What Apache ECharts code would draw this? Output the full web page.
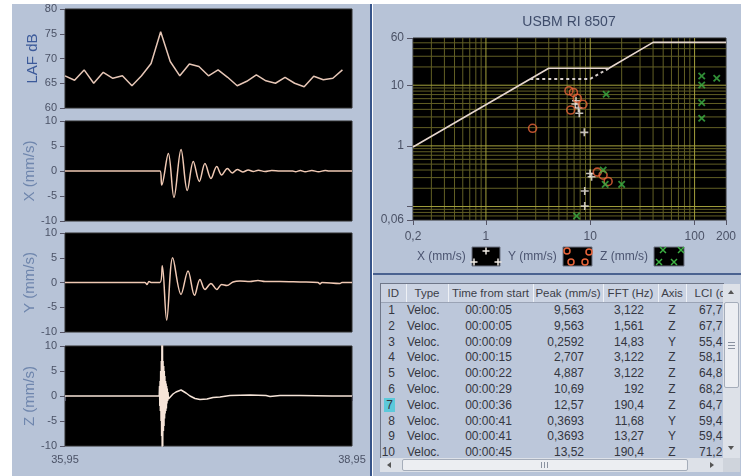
<!DOCTYPE html>
<html><head><meta charset="utf-8">
<script src="https://cdn.jsdelivr.net/npm/echarts@6/dist/echarts.min.js"></script>
<style>
html,body{margin:0;padding:0;background:#fff;width:750px;height:476px;overflow:hidden;font-family:"Liberation Sans",Arial,sans-serif;}
.abs{position:absolute;}
.bg{position:absolute;background:#b7c3d7;}
#chart{position:absolute;left:0;top:0;width:750px;height:476px;}
#tblwrap{position:absolute;left:380px;top:283px;width:343px;height:175px;overflow:hidden;border-top:1px solid #6f7789;border-left:1px solid #6f7789;background:#bcc7da;}
#tbl{border-collapse:collapse;table-layout:fixed;font-size:12px;color:#34363f;width:365px;}
#tbl th{height:18px;padding:0;font-weight:normal;font-size:11.5px;background:#cbd3e2;border-right:1px solid #eef1f6;border-bottom:1px solid #9aa3b5;white-space:nowrap;overflow:hidden;text-align:center;color:#3c3e48;}
#tbl td{height:15.8px;line-height:15.8px;padding:0;white-space:nowrap;overflow:hidden;}
.c0{text-align:right;padding-right:11px !important;}
.c1{text-align:left;padding-left:1px !important;}
.c2{text-align:center;padding-right:4px !important;}
.c3{text-align:right;padding-right:19px !important;}
.c4{text-align:right;padding-right:14px !important;}
.c5{text-align:center;}
.c6{text-align:left;padding-left:13px !important;}
.hl{background:#5cc9da;padding:0 2px;}
.sbtrack{position:absolute;background:#dde1e8;}
.thumb{position:absolute;background:#eceef2;border:1px solid #a5adba;border-radius:2px;box-sizing:border-box;}
.tri{position:absolute;width:0;height:0;}
</style></head>
<body>
<div class="bg" style="left:12px;top:4px;width:358px;height:472px"></div>
<div class="abs" style="left:370px;top:4px;width:2px;height:472px;background:#36548a"></div>
<div class="bg" style="left:373px;top:4px;width:368px;height:269px"></div>
<div class="abs" style="left:373px;top:273px;width:368px;height:2px;background:#4a6290"></div>
<div class="bg" style="left:373px;top:275px;width:368px;height:201px"></div>
<div id="chart"></div>
<div id="tblwrap"><table id="tbl"></table></div>
<div class="sbtrack" style="left:723px;top:284px;width:17px;height:174px"></div>
<div class="tri" style="left:728px;top:290px;border-left:3.5px solid transparent;border-right:3.5px solid transparent;border-bottom:4px solid #555"></div>
<div class="thumb" style="left:724px;top:302px;width:15px;height:86px"></div>
<div class="abs" style="left:728px;top:342px;width:7px;height:1px;background:#8a92a0"></div>
<div class="abs" style="left:728px;top:345px;width:7px;height:1px;background:#8a92a0"></div>
<div class="abs" style="left:728px;top:348px;width:7px;height:1px;background:#8a92a0"></div>
<div class="tri" style="left:728px;top:446px;border-left:3.5px solid transparent;border-right:3.5px solid transparent;border-top:4px solid #555"></div>
<div class="sbtrack" style="left:380px;top:458px;width:343px;height:14px"></div>
<div class="tri" style="left:387px;top:461.5px;border-top:3.5px solid transparent;border-bottom:3.5px solid transparent;border-right:4px solid #555"></div>
<div class="thumb" style="left:402px;top:459px;width:286px;height:12px"></div>
<div class="abs" style="left:541px;top:462px;width:1px;height:6px;background:#8a92a0"></div>
<div class="abs" style="left:544px;top:462px;width:1px;height:6px;background:#8a92a0"></div>
<div class="abs" style="left:547px;top:462px;width:1px;height:6px;background:#8a92a0"></div>
<div class="tri" style="left:710px;top:461.5px;border-top:3.5px solid transparent;border-bottom:3.5px solid transparent;border-left:4px solid #555"></div>
<div class="abs" style="left:723px;top:458px;width:17px;height:14px;background:#cfd4dc"></div>
<script>
// ---------- Time-series data ----------
const lafT = [35.95,36.05,36.15,36.25,36.35,36.45,36.55,36.65,36.75,36.85,36.95,37.05,37.15,37.25,37.35,37.45,37.55,37.65,37.75,37.85,37.95,38.05,38.15,38.25,38.35,38.45,38.55,38.65,38.75,38.85];
const lafV = [66.5,65.6,67.7,65.0,67.2,66.0,66.5,64.5,66.5,69.0,75.4,69.4,66.5,68.9,68.4,66.5,67.7,66.2,64.5,65.4,66.7,65.5,65.0,66.2,65.0,64.3,66.4,65.7,66.0,67.7];

const xT = [35.95,36.943,36.961,37.030,37.089,37.163,37.228,37.291,37.354,37.413,37.476,37.536,37.588,37.647,37.699,37.751,37.808,37.866,37.918,37.971,38.041,38.111,38.197,38.33,38.36,38.41,38.46,38.53,38.60,38.67,38.71,38.95];
const xV = [0,0,-2.8,3.5,-5.3,4.3,-3.9,1.9,-2.1,1.5,-1.5,0.9,-0.8,0.5,-0.4,0.3,-0.2,0.2,-0.1,0.15,-0.1,0.1,0,0,-0.15,0.1,-0.15,0.1,-0.15,0.1,0,0];

const yT = [35.95,36.786,36.807,36.828,36.849,36.943,36.967,37.013,37.076,37.163,37.236,37.304,37.361,37.413,37.476,37.536,37.588,37.643,37.706,37.779,37.884,37.967,38.041,38.197,38.406,38.595,38.615,38.636,38.824,38.845,38.95];
const yV = [0,0,-0.4,0.2,0,0,3.4,-7.6,5.0,-2.4,2.3,-2.6,0.6,-1.4,-0.2,-1.4,-0.4,-0.6,0.1,0.3,0.2,0.4,0.2,0.2,0.1,0,-0.3,0,-0.2,0,0];

const zT = [35.95,36.935,36.938,36.941,36.944,36.947,36.950,36.954,36.957,36.960,36.963,36.966,36.969,36.972,36.975,36.979,36.982,36.985,36.988,36.991,36.994,36.997,37.001,37.004,37.007,37.010,37.013,37.016,37.019,37.023,37.027,37.031,37.035,37.079,37.110,37.163,37.215,37.257,37.309,37.361,37.434,37.497,37.570,37.675,37.884,38.051,38.062,38.072,38.093,38.197,38.406,38.741,38.751,38.762,38.95];
const zV = [0,0,2,-2,3,-3,5,-5,7,-8,12,-12,12,-10,7,-7,6,-6,5,-4.5,4,-3.5,3,-3,2.5,-2.5,2,-1.5,1.5,-1,0.8,-0.6,-0.2,0.4,0.8,1.2,0.6,0,-0.5,-0.7,-0.6,-0.3,-0.2,0.1,0.2,0.1,0.4,0,-0.1,0.1,0.1,0,-0.3,0,0];

// ---------- USBM RI 8507 scatter data (frequency Hz, velocity mm/s) ----------
const pointsX = [[7.3,5.55],[7.2,4.9],[7.7,4.2],[7.85,3.44],[8.77,1.67],[9.95,0.35],[10.3,0.31],[8.85,0.18],[8.85,0.102]];
const pointsY = [[6.25,8.1],[6.9,7.6],[7.5,6.1],[8.5,4.85],[6.5,3.9],[2.8,1.95],[11.68,0.3693],[13.27,0.33],[14.83,0.2592]];
const pointsZ = [[117,14.2],[163,13],[117,10.1],[14.2,7.1],[117,5.15],[117,2.85],[13.3,0.40],[13.9,0.232],[20,0.232],[7.4,0.07]];
const limitSolid = [[0.2,0.96],[4,19],[15.1,19],[40,50.8],[200,50.8]];
const limitDotted = [[2.66,12.7],[10,12.7],[15.1,19]];
const minorGridX = [0.3,0.4,0.5,0.6,0.7,0.8,0.9,2,3,4,5,6,7,8,9,20,30,40,50,60,70,80,90];
const majorGridX = [1,10,100];
const minorGridY = [0.07,0.08,0.09,0.2,0.3,0.4,0.5,0.6,0.7,0.8,0.9,2,3,4,5,6,7,8,9,20,30,40,50];
const majorGridY = [0.1,1,10];
const FMIN = 0.2, FMAX = 200, VMIN = 0.06, VMAX = 60;

// ---------- Table data ----------
const tHead = ['ID','Type','Time from start','Peak (mm/s)','FFT (Hz)','Axis','LCI (dB)'];
const tIds = [1,2,3,4,5,6,7,8,9,10];
const tType = ['Veloc.','Veloc.','Veloc.','Veloc.','Veloc.','Veloc.','Veloc.','Veloc.','Veloc.','Veloc.'];
const tTime = ['00:00:05','00:00:05','00:00:09','00:00:15','00:00:22','00:00:29','00:00:36','00:00:41','00:00:41','00:00:45'];
const tPeak = ['9,563','9,563','0,2592','2,707','4,887','10,69','12,57','0,3693','0,3693','13,52'];
const tFFT = ['3,122','1,561','14,83','3,122','3,122','192','190,4','11,68','13,27','190,4'];
const tAxis = ['Z','Z','Y','Z','Z','Z','Z','Y','Y','Z'];
const tLCI = ['67,7','67,7','55,4','58,1','64,8','68,2','64,7','59,4','59,4','71,2'];
const tWidths = [25,42,85,70,55,28,60];
const selectedRow = 7;

// build table
(function(){
  let h = '<colgroup>' + tWidths.map(w=>'<col style="width:'+w+'px">').join('') + '</colgroup>';
  h += '<tr>' + tHead.map(t=>'<th>'+t+'</th>').join('') + '</tr>';
  tIds.forEach((id,i)=>{
    const idTxt = id===selectedRow ? '<span class="hl">'+id+'</span>' : id;
    h += '<tr><td class="c0">'+idTxt+'</td><td class="c1">'+tType[i]+'</td><td class="c2">'+tTime[i]+'</td><td class="c3">'+tPeak[i]+'</td><td class="c4">'+tFFT[i]+'</td><td class="c5">'+tAxis[i]+'</td><td class="c6">'+tLCI[i]+'</td></tr>';
  });
  document.getElementById('tbl').innerHTML = h;
})();

const zip = (a,b)=>a.map((t,i)=>[t,b[i]]);
const TMIN = 35.95, TMAX = 38.95;
const labelColor = '#4b5266';
const traceColor = '#f0c9b4';
const ff = '"Liberation Sans", Arial, sans-serif';

function timeAxis(i, labels){
  return {
    type:'value', gridIndex:i, min:TMIN, max:TMAX,
    axisLine:{show:false}, splitLine:{show:false},
    axisTick:{show:labels, length:5, lineStyle:{color:'#556'}, customValues:[TMIN,TMAX]},
    axisLabel:{show:labels, color:labelColor, fontSize:11, fontFamily:ff, margin:8,
      customValues:[TMIN,TMAX], formatter:v=>v.toFixed(2).replace('.',',')}
  };
}
function valAxis(i, mn, mx, name, nameColor){
  return {
    type:'value', gridIndex:i, min:mn, max:mx, interval:5,
    name:name, nameLocation:'middle', nameGap:25,
    nameTextStyle:{color:nameColor, fontSize:15, fontFamily:ff},
    axisLine:{show:false}, splitLine:{show:false},
    axisTick:{show:true, length:5, lineStyle:{color:'#556'}},
    axisLabel:{color:labelColor, fontSize:11, fontFamily:ff, margin:8}
  };
}
const logFmt = v => { if (Math.abs(v-0.1) < 1e-9) return ''; return String(Number(v.toPrecision(6))).replace('.', ','); };

const gridBase = {show:true, backgroundColor:'#000', borderColor:'#2e2e2e', borderWidth:1, containLabel:false, outerBoundsMode:'none'};
const grids = [
  Object.assign({left:65, top:9, width:287, height:99}, gridBase),
  Object.assign({left:65, top:121, width:287, height:100}, gridBase),
  Object.assign({left:65, top:233, width:287, height:99}, gridBase),
  Object.assign({left:65, top:346, width:287, height:100}, gridBase),
  Object.assign({left:413, top:38, width:313, height:182}, gridBase)
];

function lineSeries(i, data, smooth, color){
  return {type:'line', xAxisIndex:i, yAxisIndex:i, data:data, showSymbol:false, smooth:smooth,
    lineStyle:{color:color, width:1.5}, silent:true, z:3};
}
// log grid lines drawn as a broken line series (segments separated by gaps)
function gridLines(xs, ys, color){
  const d = [];
  xs.forEach(v=>{ d.push([v,VMIN],[v,VMAX],['-','-']); });
  ys.forEach(v=>{ d.push([FMIN,v],[FMAX,v],['-','-']); });
  return {type:'line', xAxisIndex:4, yAxisIndex:4, data:d, showSymbol:false, silent:true, z:1,
    connectNulls:false, lineStyle:{color:color, width:1, opacity:1}, emphasis:{disabled:true}};
}

const plusPath = 'path://M4,0H6V4H10V6H6V10H4V6H0V4H4Z';

// legend graphics
const legendItems = [];
function txt(x,y,t){ legendItems.push({type:'text', x:x, y:y, style:{text:t, fill:'#4b5470', font:'12px '+ff, textVerticalAlign:'middle'}}); }
function box(x,y,w,h){ legendItems.push({type:'rect', shape:{x:x,y:y,width:w,height:h}, style:{fill:'#000', stroke:'#6a7080', lineWidth:1}}); }
function plus(cx,cy,c){ legendItems.push({type:'line', shape:{x1:cx-3.5,y1:cy,x2:cx+3.5,y2:cy}, style:{stroke:c,lineWidth:1.5}});
  legendItems.push({type:'line', shape:{x1:cx,y1:cy-3.5,x2:cx,y2:cy+3.5}, style:{stroke:c,lineWidth:1.5}}); }
function cross(cx,cy,c){ legendItems.push({type:'line', shape:{x1:cx-3,y1:cy-3,x2:cx+3,y2:cy+3}, style:{stroke:c,lineWidth:1.5}});
  legendItems.push({type:'line', shape:{x1:cx-3,y1:cy+3,x2:cx+3,y2:cy-3}, style:{stroke:c,lineWidth:1.5}}); }
function circ(cx,cy,c){ legendItems.push({type:'circle', shape:{cx:cx,cy:cy,r:3}, style:{fill:'none', stroke:c, lineWidth:1.5}}); }
txt(417,257,'X (mm/s)'); box(472,247,28,19); plus(486,251,'#f2ece6'); plus(474,262,'#f2ece6'); plus(498,262,'#f2ece6');
txt(508,257,'Y (mm/s)'); box(563,247,29,19); circ(567,251,'#e8643a'); circ(571,262,'#e8643a'); circ(585,262,'#e8643a'); circ(589,252,'#e8643a');
txt(600,257,'Z (mm/s)'); box(654,247,30,19); cross(659,262,'#3cb043'); cross(674,262,'#3cb043'); cross(663,250,'#3cb043'); cross(681,250,'#3cb043');
legendItems.push({type:'text', x:569, y:22, style:{text:'USBM RI 8507', fill:'#3e4c6a', font:'14px '+ff, textAlign:'center', textVerticalAlign:'middle'}});

const option = {
  animation:false,
  textStyle:{fontFamily:ff},
  grid: grids,
  xAxis: [
    timeAxis(0,false), timeAxis(1,false), timeAxis(2,false), timeAxis(3,true),
    {type:'log', logBase:10, gridIndex:4, min:FMIN, max:FMAX,
      axisLine:{show:false}, splitLine:{show:false},
      axisTick:{show:true, length:5, lineStyle:{color:'#556'}},
      axisLabel:{color:labelColor, fontSize:12, fontFamily:ff, margin:11, formatter:logFmt}}
  ],
  yAxis: [
    valAxis(0,60,80,'LAF dB','#3c5a9a'),
    valAxis(1,-10,10,'X (mm/s)','#6f86ad'),
    valAxis(2,-10,10,'Y (mm/s)','#6f86ad'),
    valAxis(3,-10,10,'Z (mm/s)','#6f86ad'),
    {type:'log', logBase:10, gridIndex:4, min:VMIN, max:VMAX,
      axisLine:{show:false}, splitLine:{show:false},
      axisTick:{show:true, length:6, lineStyle:{color:'#556'}},
      axisLabel:{color:labelColor, fontSize:12, fontFamily:ff, margin:9, formatter:logFmt}}
  ],
  series: [
    lineSeries(0, zip(lafT,lafV), false, '#e6c6b6'),
    lineSeries(1, zip(xT,xV), 0.35, traceColor),
    lineSeries(2, zip(yT,yV), 0.35, traceColor),
    lineSeries(3, zip(zT,zV), false, '#f6e4d8'),
    gridLines(minorGridX, minorGridY, '#625f25'),
    gridLines(majorGridX, majorGridY, '#a4a03c'),
    {type:'line', xAxisIndex:4, yAxisIndex:4, data:limitSolid, showSymbol:false, silent:true, z:3,
      lineStyle:{color:'#e6d6ce', width:1.6}},
    {type:'line', xAxisIndex:4, yAxisIndex:4, data:limitDotted, showSymbol:false, silent:true, z:3,
      lineStyle:{color:'#d8d0cc', width:2, type:[3,3]}},
    {type:'scatter', name:'X (mm/s)', xAxisIndex:4, yAxisIndex:4, data:pointsX, symbol:plusPath, symbolSize:8, z:4,
      itemStyle:{color:'#f4eee8'}},
    {type:'scatter', name:'Y (mm/s)', xAxisIndex:4, yAxisIndex:4, data:pointsY, symbol:'circle', symbolSize:8, z:4,
      itemStyle:{color:'rgba(0,0,0,0)', borderColor:'#e8643a', borderWidth:1.6}},
    {type:'scatter', name:'Z (mm/s)', xAxisIndex:4, yAxisIndex:4, data:pointsZ, symbol:plusPath, symbolRotate:45, symbolSize:9, z:4,
      itemStyle:{color:'#3cb043'}}
  ],
  graphic: legendItems
};
const chart = echarts.init(document.getElementById('chart'), null, {renderer:'canvas'});
chart.setOption(option);
</script>
</body></html>
